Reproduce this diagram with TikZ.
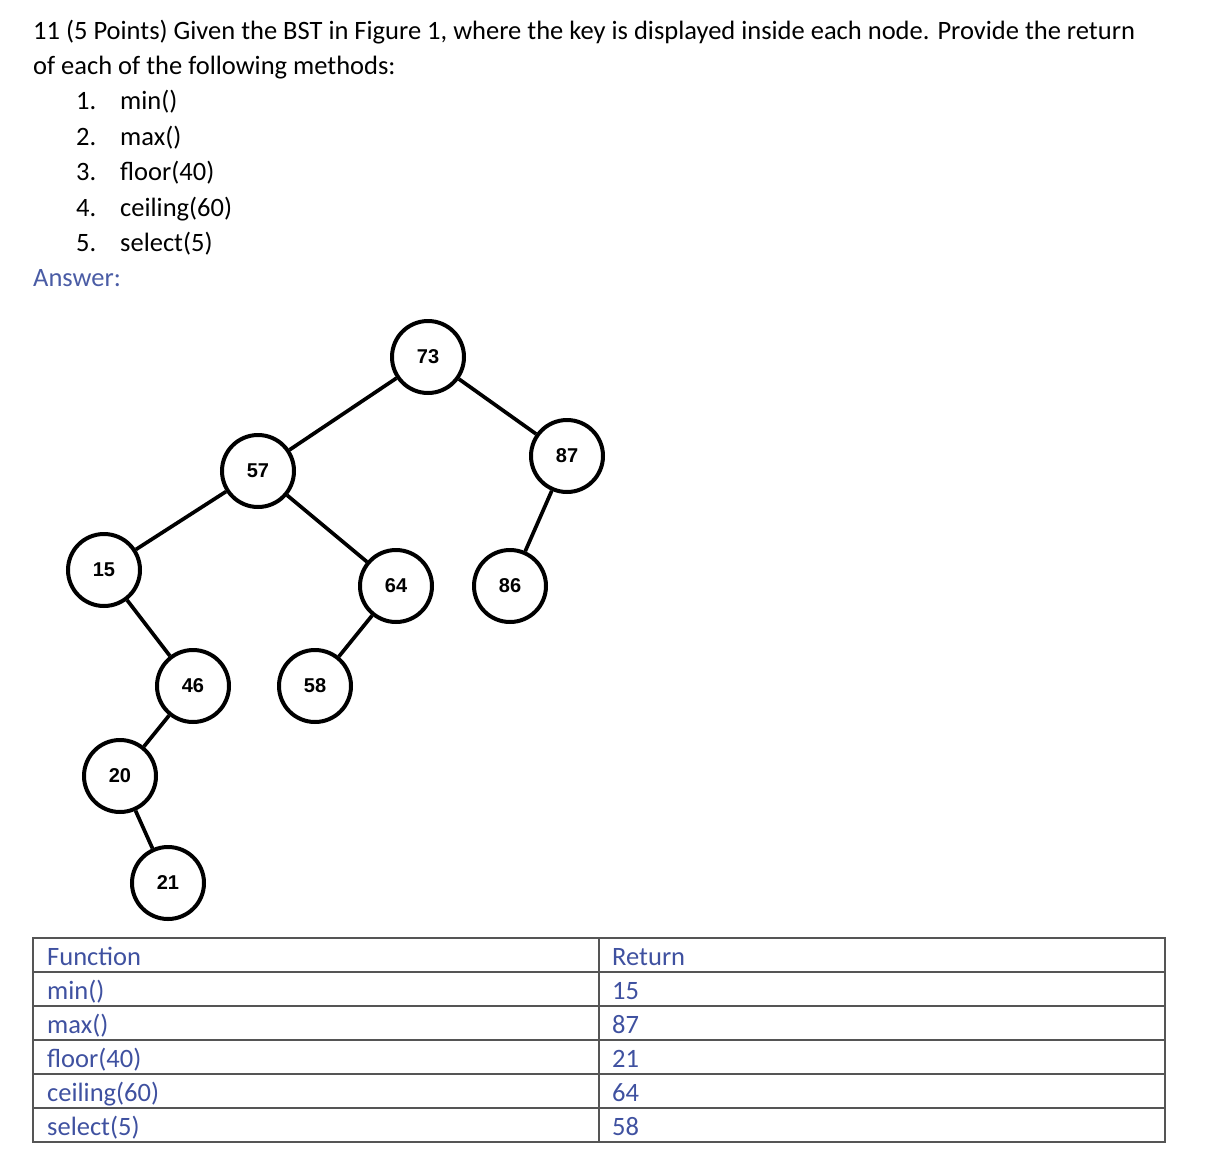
\documentclass[tikz,border=0pt]{standalone}
\usepackage{fontspec}
\setmainfont{Carlito}
\newfontfamily\keyfont{Liberation Sans}
\usepackage{tikz}

\definecolor{answerblue}{HTML}{4A5CA5}
\definecolor{tableblue}{HTML}{3F51A0}
\definecolor{rulegray}{HTML}{555555}

\begin{document}
\begin{tikzpicture}[x = 1pt, y = -1pt, font = \fontsize{26.5}{31}\selectfont,
        key/.style = {circle, draw, line width = 4pt, minimum size = 72pt, inner sep = 0pt,
            font = \keyfont\bfseries\fontsize{20}{24}\selectfont},
        edge/.style = {line width = 3.7pt},
        txt/.style = {anchor = base west, inner sep = 0pt}]
        \useasboundingbox (0,0) rectangle (1208,1170);

        % question
        \node[txt] (line1) at (33,39) {11 (5 Points) Given the BST in Figure 1, where the key is displayed inside each node. Provide the return};
        \node[txt] (line2) at (33,74) {of each of the following methods:};
        \foreach \m [count = \i] in {min(), max(), floor(40), ceiling(60), select(5)} {
            \node[txt] (num\i) at (76,{74+35.5*\i}) {\i.};
            \node[txt] (item\i) at (120,{74+35.5*\i}) {\m};
        }
        \node[txt, text = answerblue] (answer) at (33,286) {Answer:};

        % tree
        \node[key] (n73) at (428,357) {73};
        \node[key] (n57) at (258,471) {57};
        \node[key] (n87) at (567,456) {87};
        \node[key] (n15) at (104,570) {15};
        \node[key] (n64) at (396,586) {64};
        \node[key] (n86) at (510,586) {86};
        \node[key] (n46) at (193,686) {46};
        \node[key] (n58) at (315,686) {58};
        \node[key] (n20) at (120,776) {20};
        \node[key] (n21) at (168,883) {21};

        \draw[edge] (n73) -- (n57);
        \draw[edge] (n73) -- (n87);
        \draw[edge] (n57) -- (n15);
        \draw[edge] (n57) -- (n64);
        \draw[edge] (n87) -- (n86);
        \draw[edge] (n15) -- (n46);
        \draw[edge] (n64) -- (n58);
        \draw[edge] (n46) -- (n20);
        \draw[edge] (n20) -- (n21);

        % table
        \draw[rulegray, line width = 1.8pt] (33,938) rectangle (1165,1142);
        \foreach \y in {972,1006,1040,1074,1108}
            \draw[rulegray, line width = 1.5pt] (33,\y) -- (1165,\y);
        \draw[rulegray, line width = 1.5pt] (599,938) -- (599,1142);
        \foreach \f/\r [count = \i] in {Function/Return, min()/15, max()/87, floor(40)/21, ceiling(60)/64, select(5)/58} {
            \node[txt, text = tableblue] (fun\i) at (47,{931+34*\i}) {\f};
            \node[txt, text = tableblue] (ret\i) at (612,{931+34*\i}) {\r};
        }
\end{tikzpicture}
\end{document}
